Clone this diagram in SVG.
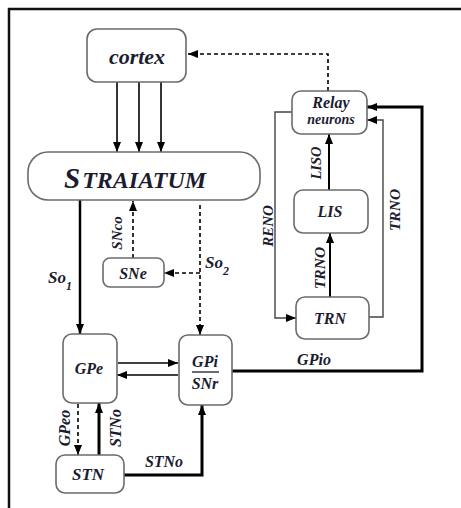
<svg xmlns="http://www.w3.org/2000/svg" width="461" height="508" viewBox="0 0 461 508">
<defs>
<marker id="ah" markerUnits="userSpaceOnUse" markerWidth="10" markerHeight="8" viewBox="0 0 10 8" refX="10" refY="4" orient="auto">
<path d="M0,0 L10,4 L0,8 z" fill="#000"/>
</marker>
<style>
.box{fill:#fff;stroke:#6b6b6b;stroke-width:1.6}
.t{font-family:'Liberation Serif',serif;font-style:italic;font-weight:bold;fill:#1c1c30;text-anchor:middle}
.s{text-anchor:start}
.c{fill:none;stroke:#000}
.thin{stroke-width:1.6}
.mid{stroke-width:2}
.thick{stroke-width:3}
.dash{stroke-width:1.6;stroke-dasharray:4,3}
.gray{stroke:#444;stroke-width:1.4}
</style>
</defs>
<rect width="461" height="508" fill="#fff"/>
<path d="M9,508 V9 H461" fill="none" stroke="#111" stroke-width="2.5"/>

<g id="connectors">
<path class="c thin" d="M117,82 V152" marker-end="url(#ah)"/>
<path class="c thin" d="M139,82 V152" marker-end="url(#ah)"/>
<path class="c thin" d="M161,82 V152" marker-end="url(#ah)"/>
<path class="c dash" d="M328,91 V54 H188" marker-end="url(#ah)"/>
<path class="c thick" d="M80,200 V334" style="stroke-width:2.5" marker-end="url(#ah)"/>
<path class="c dash" d="M200,205 V335" marker-end="url(#ah)"/>
<path class="c dash" d="M200,273 H164" marker-end="url(#ah)"/>
<path class="c dash" d="M133,258 V201" marker-end="url(#ah)"/>
<path class="c mid" d="M329,190 V134" marker-end="url(#ah)"/>
<path class="c mid" d="M330,297 V233" marker-end="url(#ah)"/>
<path class="c gray" d="M292,112 H275 V318 H296" marker-end="url(#ah)"/>
<path class="c gray" d="M369,317 H383 V120 H367" marker-end="url(#ah)"/>
<path class="c thick" d="M232,371 H422 V107 H367" marker-end="url(#ah)"/>
<path class="c thin" d="M118,363 H178" marker-end="url(#ah)"/>
<path class="c thin" d="M178,375 H117" marker-end="url(#ah)"/>
<path class="c dash" d="M78,404 V455" marker-end="url(#ah)"/>
<path class="c thick" d="M99,455 V403" marker-end="url(#ah)"/>
<path class="c thick" d="M124,475 H202 V405" marker-end="url(#ah)"/>
</g>

<g id="cortex">
<rect class="box" x="87" y="29" width="99" height="53" rx="10"/>
<text class="t" x="137" y="64" font-size="22">cortex</text>
</g>
<g id="straiatum">
<rect class="box" x="28" y="152" width="232" height="48" rx="20"/>
<text class="t s" x="64" y="188" font-size="24"><tspan font-size="29">S</tspan><tspan dx="2">TRAIATUM</tspan></text>
</g>
<g id="sne">
<rect class="box" x="103" y="258" width="61" height="29" rx="7"/>
<text class="t" x="133" y="279" font-size="16">SNe</text>
</g>
<g id="relay">
<rect class="box" x="292" y="91" width="75" height="43" rx="9"/>
<text class="t" x="331" y="108" font-size="16">Relay</text>
<text class="t" x="331" y="124" font-size="14">neurons</text>
</g>
<g id="lis">
<rect class="box" x="294" y="190" width="74" height="43" rx="9"/>
<text class="t" x="330" y="217" font-size="16">LIS</text>
</g>
<g id="trn">
<rect class="box" x="296" y="297" width="73" height="42" rx="9"/>
<text class="t" x="330" y="324" font-size="16">TRN</text>
</g>
<g id="gpe">
<rect class="box" x="63" y="334" width="54" height="69" rx="9"/>
<text class="t" x="89" y="374" font-size="16">GPe</text>
</g>
<g id="gpi">
<rect class="box" x="179" y="335" width="53" height="70" rx="9"/>
<text class="t" x="205" y="367" font-size="16">GPi</text>
<line x1="192" y1="372" x2="219" y2="372" stroke="#1c1c30" stroke-width="1.3"/>
<text class="t" x="205" y="389" font-size="16">SNr</text>
</g>
<g id="stn">
<rect class="box" x="56" y="455" width="68" height="38" rx="9"/>
<text class="t" x="88" y="480" font-size="17">STN</text>
</g>

<g id="labels">
<text class="t s" x="48" y="283" font-size="17">So<tspan font-size="12" dy="7">1</tspan></text>
<text class="t s" x="205" y="268" font-size="17">So<tspan font-size="12" dy="7">2</tspan></text>
<text class="t" font-size="15" transform="translate(117,233) rotate(-90)" x="0" y="5">SNco</text>
<text class="t" font-size="15" transform="translate(268,226) rotate(-90)" x="0" y="5">RENO</text>
<text class="t" font-size="14.5" transform="translate(316,163) rotate(-90)" x="0" y="5">LISO</text>
<text class="t" font-size="15.5" transform="translate(320,268) rotate(-90)" x="0" y="5">TRNO</text>
<text class="t" font-size="15.5" transform="translate(395,210) rotate(-90)" x="0" y="5">TRNO</text>
<text class="t" font-size="16" x="314" y="365">GPio</text>
<text class="t" font-size="16" transform="translate(65,428) rotate(-90)" x="0" y="5">GPeo</text>
<text class="t" font-size="16" transform="translate(116,428) rotate(-90)" x="0" y="5">STNo</text>
<text class="t" font-size="16" x="164" y="467">STNo</text>
</g>
</svg>
